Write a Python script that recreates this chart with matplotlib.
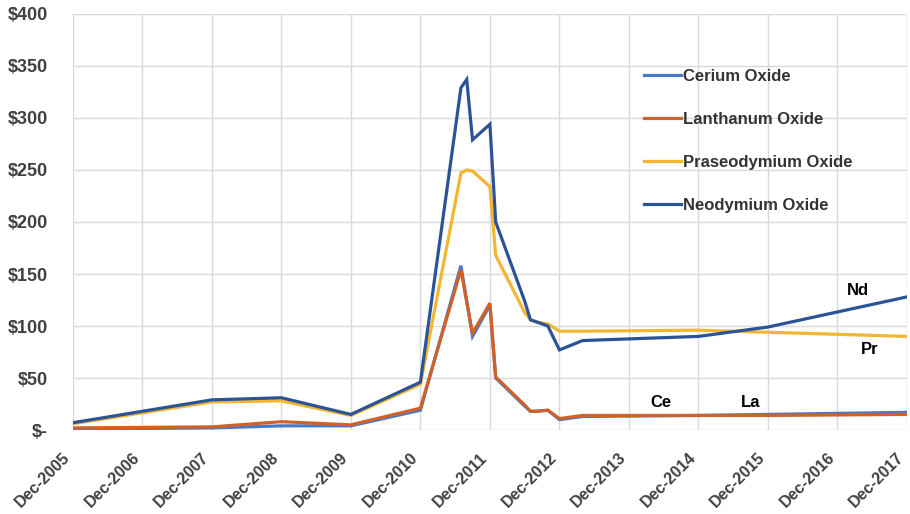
import matplotlib
matplotlib.use("Agg")
import matplotlib.pyplot as plt
import matplotlib.transforms as mtransforms

# months after Dec-2005
months = [0, 24, 36, 48, 60, 67, 68, 69, 72, 73, 78, 79, 80, 82, 84, 88, 108, 120, 144]

cerium       = [1, 2, 4, 4, 19, 158, 124, 90, 120, 50, 23, 18, 18, 19, 10, 13, 14, 15, 17]
lanthanum    = [2, 3, 8, 5, 21, 154, 123, 93, 122, 51, 24, 18, 18, 19, 11, 14, 14, 14, 15]
praseodymium = [6, 27, 28, 14, 44, 247, 250, 249, 234, 168, 113, 106, 104, 102, 95, 95, 96, 94, 90]
neodymium    = [7, 29, 31, 15, 46, 329, 337, 279, 294, 200, 124, 106, 104, 100, 77, 86, 90, 99, 128]

years = list(range(2005, 2018))
tick_labels = [f"Dec-{y}" for y in years]
y_ticks = [0, 50, 100, 150, 200, 250, 300, 350, 400]
y_labels = ["$-"] + [f"${v}" for v in y_ticks[1:]]

series = [
    ("Cerium Oxide", cerium, "#4A78C8"),
    ("Lanthanum Oxide", lanthanum, "#CF6229"),
    ("Praseodymium Oxide", praseodymium, "#F2B630"),
    ("Neodymium Oxide", neodymium, "#2C5395"),
]

plt.rcParams["font.family"] = ["Liberation Sans", "DejaVu Sans"]

fig = plt.figure(figsize=(9.1, 5.14), dpi=100)
ax = fig.add_axes([0.080, 0.1634, 0.9167, 0.8094])

for name, vals, color in series:
    ax.plot(months, vals, color=color, lw=2.3, label=name, solid_joinstyle="miter")

ax.set_xlim(0, 144)
ax.set_ylim(0, 400)
ax.set_xticks([12 * i for i in range(len(years))])
ax.set_xticklabels(tick_labels, rotation=45, ha="right", va="bottom",
                   rotation_mode="anchor", fontsize=11.5, fontweight="bold", color="#404040")
# nudge the rotated labels left so the last one stays inside the figure
shift = mtransforms.ScaledTranslation(-3 / 100, 0, fig.dpi_scale_trans)
for lab in ax.get_xticklabels():
    lab.set_transform(lab.get_transform() + shift)
ax.set_yticks(y_ticks)
ax.set_yticklabels(y_labels, fontsize=13, fontweight="bold", color="#404040")
ax.tick_params(axis="x", length=0, pad=22)
ax.tick_params(axis="y", length=0, pad=18)
ax.grid(True, color="#d9d9d9", lw=1)
ax.set_axisbelow(True)
for s in ax.spines.values():
    s.set_visible(False)

ax.legend(loc="upper left", bbox_to_anchor=(0.667, 0.905), frameon=False,
          prop={"size": 12, "weight": "bold"}, labelcolor="#333333",
          handlelength=2.2, handletextpad=0.15, labelspacing=1.68)

ax.text(135.5, 134, "Nd", fontsize=12, fontweight="bold", ha="center", va="center")
ax.text(137.5, 77, "Pr", fontsize=12, fontweight="bold", ha="center", va="center")
ax.text(101.5, 26, "Ce", fontsize=12, fontweight="bold", ha="center", va="center")
ax.text(117, 26, "La", fontsize=12, fontweight="bold", ha="center", va="center")

fig.savefig("out.png", dpi=100)
